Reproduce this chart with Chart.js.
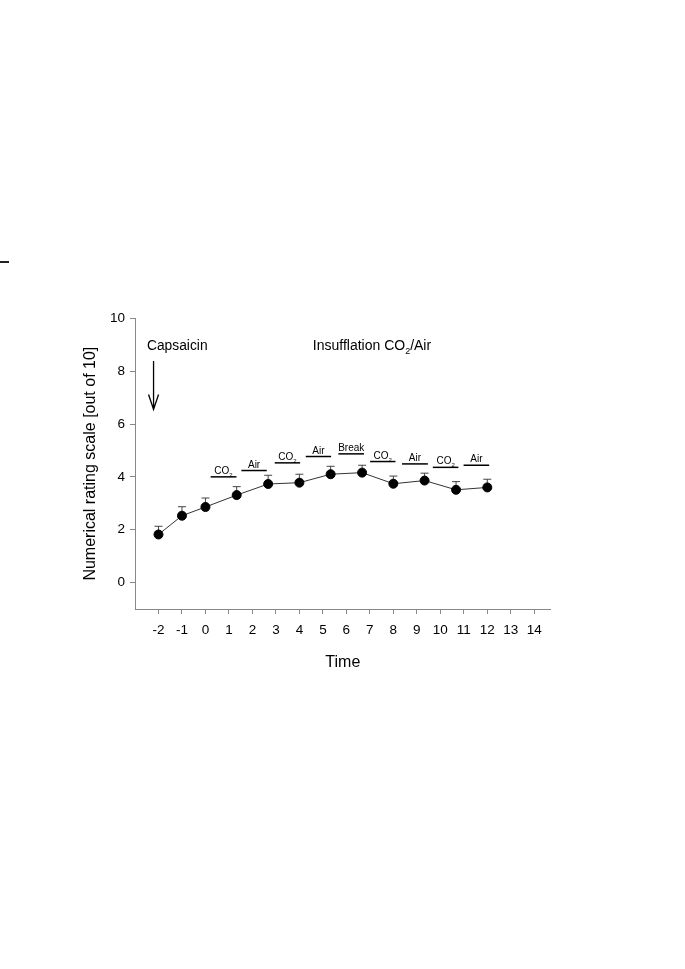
<!DOCTYPE html>
<html>
<head>
<meta charset="utf-8">
<script src="https://cdn.jsdelivr.net/npm/chart.js@4.4.1/dist/chart.umd.min.js"></script>
<style>
  html, body { margin: 0; padding: 0; background: #fff; }
  .page { position: relative; width: 685px; height: 969px; }
  .dash { position: absolute; left: 0; top: 261px; width: 9px; height: 2px; background: #222; }
</style>
</head>
<body>
<div class="page">
  <div class="dash"></div>
  <canvas id="nrs"></canvas>
</div>
<script>
// time points (hours) and mean NRS with upper SE
const times = [-2, -1, 0, 1.33, 2.67, 4, 5.33, 6.67, 8, 9.33, 10.67, 12];
const nrsMean = [1.82, 2.53, 2.86, 3.31, 3.73, 3.78, 4.10, 4.16, 3.74, 3.86, 3.51, 3.60];
const nrsErr = [0.31, 0.34, 0.34, 0.32, 0.33, 0.32, 0.30, 0.28, 0.29, 0.28, 0.31, 0.31];

const xTicks = [-2, -1, 0, 1, 2, 3, 4, 5, 6, 7, 8, 9, 10, 11, 12, 13, 14];
const yTicks = [0, 2, 4, 6, 8, 10];

// insufflation phases
const phaseLabels = ['CO2', 'Air', 'CO2', 'Air', 'Break', 'CO2', 'Air', 'CO2', 'Air'];
const phaseStart = [0.22, 1.53, 2.95, 4.27, 5.66, 7.01, 8.37, 9.68, 10.99];
const phaseEnd = [1.32, 2.61, 4.03, 5.35, 6.75, 8.09, 9.47, 10.77, 12.08];
const phaseLevel = [4.00, 4.24, 4.53, 4.77, 4.87, 4.58, 4.49, 4.36, 4.44];

const FONT = 'Arial, "Liberation Sans", sans-serif';

// draws "CO2" style text with subscript 2, centered or left aligned
function drawChem(ctx, text, x, y, size, align) {
  const parts = text.split('CO2');
  const sub = Math.round(size * 0.62) + 'px ' + FONT;
  const pieces = [];
  parts.forEach((p, i) => {
    if (p) pieces.push({ t: p, f: size + 'px ' + FONT, dy: 0 });
    if (i < parts.length - 1) {
      pieces.push({ t: 'CO', f: size + 'px ' + FONT, dy: 0 });
      pieces.push({ t: '2', f: sub, dy: size * 0.3 });
    }
  });
  let w = 0;
  pieces.forEach(p => { ctx.font = p.f; p.w = ctx.measureText(p.t).width; w += p.w; });
  let cx = align === 'center' ? x - w / 2 : x;
  ctx.textAlign = 'left';
  ctx.textBaseline = 'alphabetic';
  pieces.forEach(p => {
    ctx.font = p.f;
    ctx.fillText(p.t, cx, y + p.dy);
    cx += p.w;
  });
}

const errorBars = {
  id: 'errorBars',
  beforeDatasetsDraw(chart) {
    const { ctx, scales: { x, y } } = chart;
    ctx.save();
    ctx.strokeStyle = '#444';
    ctx.lineWidth = 1;
    times.forEach((t, i) => {
      const px = x.getPixelForValue(t);
      const y0 = y.getPixelForValue(nrsMean[i]);
      const y1 = y.getPixelForValue(nrsMean[i] + nrsErr[i]);
      ctx.beginPath();
      ctx.moveTo(px, y0);
      ctx.lineTo(px, y1);
      ctx.moveTo(px - 4, y1);
      ctx.lineTo(px + 4, y1);
      ctx.stroke();
    });
    ctx.restore();
  }
};

const annotations = {
  id: 'annotations',
  afterDatasetsDraw(chart) {
    const { ctx, scales: { x, y } } = chart;
    ctx.save();
    ctx.fillStyle = '#000';
    ctx.strokeStyle = '#000';

    // phase bars
    ctx.lineWidth = 1.5;
    phaseLabels.forEach((lab, i) => {
      const x0 = x.getPixelForValue(phaseStart[i]);
      const x1 = x.getPixelForValue(phaseEnd[i]);
      const py = y.getPixelForValue(phaseLevel[i]);
      ctx.beginPath();
      ctx.moveTo(x0, py);
      ctx.lineTo(x1, py);
      ctx.stroke();
      drawChem(ctx, lab, (x0 + x1) / 2, py - 3, 10, 'center');
    });

    // capsaicin label and arrow
    drawChem(ctx, 'Capsaicin', x.getPixelForValue(-2.49), y.getPixelForValue(8.8), 13.8, 'left');
    const ax = x.getPixelForValue(-2.21);
    const aTop = y.getPixelForValue(8.38);
    const aBot = y.getPixelForValue(6.55);
    ctx.lineWidth = 1.3;
    ctx.beginPath();
    ctx.moveTo(ax, aTop);
    ctx.lineTo(ax, aBot);
    ctx.moveTo(ax - 5, aBot - 15);
    ctx.lineTo(ax, aBot);
    ctx.lineTo(ax + 5, aBot - 15);
    ctx.stroke();

    drawChem(ctx, 'Insufflation CO2/Air', x.getPixelForValue(4.57), y.getPixelForValue(8.8), 14, 'left');
    ctx.restore();
  }
};

new Chart(document.getElementById('nrs'), {
  type: 'scatter',
  data: {
    datasets: [{
      data: times.map((t, i) => ({ x: t, y: nrsMean[i] })),
      showLine: true,
      borderColor: '#333',
      borderWidth: 1,
      pointRadius: 4.5,
      pointHoverRadius: 4.5,
      pointBackgroundColor: '#000',
      pointBorderColor: '#000',
      clip: false
    }]
  },
  options: {
    responsive: true,
    maintainAspectRatio: false,
    animation: false,
    events: [],
    layout: { padding: { left: 81.4, top: 318.3, right: 134.3, bottom: 296.4 } },
    plugins: { legend: { display: false }, tooltip: { enabled: false } },
    scales: {
      x: {
        type: 'linear',
        min: -3,
        max: 14.7,
        afterBuildTicks: s => { s.ticks = xTicks.map(v => ({ value: v })); },
        afterFit: s => { s.height = 63.6; },
        grid: { drawOnChartArea: false, drawTicks: true, tickLength: 5, color: '#888' },
        border: { color: '#888', width: 1 },
        ticks: { color: '#000', font: { family: FONT, size: 13.5 }, padding: 8, maxRotation: 0 },
        title: { display: true, text: 'Time', color: '#000', font: { family: FONT, size: 16 }, padding: 0 }
      },
      y: {
        min: -1,
        max: 10,
        afterBuildTicks: s => { s.ticks = yTicks.map(v => ({ value: v })); },
        afterFit: s => { s.width = 53.6; },
        grid: { drawOnChartArea: false, drawTicks: true, tickLength: 5, color: '#888' },
        border: { color: '#888', width: 1 },
        ticks: { color: '#000', font: { family: FONT, size: 13.5 }, padding: 5 },
        title: { display: true, text: 'Numerical rating scale [out of 10]', color: '#000', font: { family: FONT, size: 16 }, padding: 0 }
      }
    }
  },
  plugins: [errorBars, annotations]
});
</script>
</body>
</html>
